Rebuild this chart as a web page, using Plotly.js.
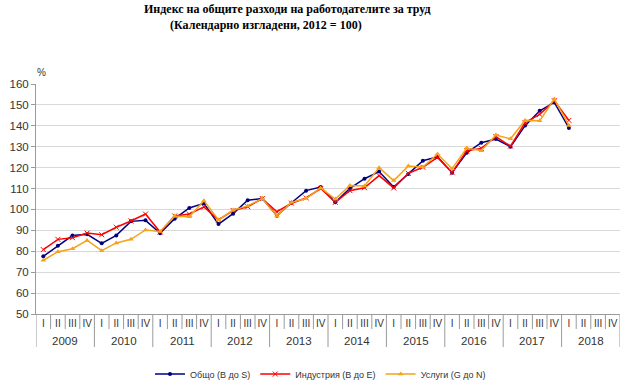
<!DOCTYPE html>
<html>
<head>
<meta charset="utf-8">
<script src="https://cdn.plot.ly/plotly-3.0.1.min.js"></script>
<style>html,body{margin:0;padding:0;background:#fff;}#chart{width:630px;height:381px;}</style>
</head>
<body>
<div id="chart"></div>
<script>
const years = ["2009","2010","2011","2012","2013","2014","2015","2016","2017","2018"];
const quarters = ["I","II","III","IV"];
const total = [77.6, 82.7, 87.5, 88.1, 83.8, 87.6, 94.3, 94.8, 88.6, 95.6, 100.7, 102.9, 93.0, 98.0, 104.4, 105.2, 97.0, 103.2, 109.0, 110.7, 103.4, 110.1, 114.7, 118.1, 110.7, 117.0, 123.3, 125.2, 117.6, 127.1, 131.9, 133.7, 130.0, 140.1, 147.2, 151.2, 139.0];
const industry = [80.8, 85.7, 86.5, 88.7, 87.9, 91.5, 94.5, 97.8, 89.2, 96.9, 97.8, 101.2, 95.0, 99.5, 101.3, 105.2, 98.9, 103.0, 105.5, 110.0, 103.4, 109.0, 110.4, 116.2, 110.3, 117.3, 120.2, 124.9, 117.6, 128.1, 129.2, 134.8, 130.3, 141.5, 145.5, 152.0, 142.6];
const services = [75.7, 79.8, 81.2, 85.2, 80.3, 84.0, 85.7, 90.2, 89.5, 96.7, 96.5, 104.2, 95.0, 99.7, 101.7, 105.2, 96.9, 103.4, 105.2, 110.3, 105.0, 111.5, 111.2, 120.0, 113.8, 120.8, 120.3, 126.5, 119.5, 129.4, 128.1, 135.6, 133.8, 142.6, 142.4, 152.8, 140.2];
const seriesNames = ["Общо (B до S)", "Индустрия (B до E)", "Услуги (G до N)"];

const nQ = years.length * quarters.length;
const tickVals = [], tickText = [];
for (let i = 0; i < nQ; i++) { tickVals.push(i); tickText.push(quarters[i % 4]); }
const xs = total.map((_, i) => i);

const plotH = 230;
const shapes = [];
for (let i = 0; i <= nQ; i++) {
  const isYear = i % 4 === 0;
  shapes.push({type:'line', xref:'x', yref:'paper', x0:i-0.5, x1:i-0.5, y0:0,
    y1: -(isYear ? 33 : 15) / plotH, line:{color:'#9a9a9a', width:1}});
}
const annotations = years.map((y, k) => ({
  x: k*4 + 1.5, xref:'x', y: -27/plotH, yref:'paper', text: y, showarrow:false,
  yanchor:'middle', font:{family:'Liberation Sans, Arial', size:11.5, color:'#333'}
}));
annotations.push({x:(41-36)/584, xref:'paper', y:(314-72)/plotH, yref:'paper', text:'%', showarrow:false,
  xanchor:'center', yanchor:'middle', font:{family:'Liberation Sans, Arial', size:10, color:'#333'}});
annotations.push({x:(287-36)/584, xref:'paper', y:(314-9)/plotH, yref:'paper',
  text:'<b>Индекс на общите разходи на работодателите за труд</b>', showarrow:false,
  xanchor:'center', yanchor:'middle', font:{family:'Liberation Serif, Times New Roman', size:12, color:'#000'}});
annotations.push({x:(266-36)/584, xref:'paper', y:(314-25)/plotH, yref:'paper',
  text:'<b>(Календарно изгладени, 2012 = 100)</b>', showarrow:false,
  xanchor:'center', yanchor:'middle', font:{family:'Liberation Serif, Times New Roman', size:12, color:'#000'}});

const traces = [
  {x: xs, y: total, name: seriesNames[0], mode:'lines+markers', line:{color:'#000080', width:1.5}, marker:{symbol:'circle', size:4, color:'#000080'}},
  {x: xs, y: industry, name: seriesNames[1], mode:'lines+markers', line:{color:'#ff0000', width:1.5}, marker:{symbol:'x-thin', size:5, color:'#ff0000', line:{color:'#ff0000', width:1}}},
  {x: xs, y: services, name: seriesNames[2], mode:'lines+markers', line:{color:'#f5a31a', width:1.5}, marker:{symbol:'triangle-up', size:5, color:'#f5a31a'}}
];

const layout = {
  width:630, height:381,
  margin:{l:36, r:10, t:84, b:67, pad:0, autoexpand:false},
  paper_bgcolor:'#fff', plot_bgcolor:'#fff',
  showlegend:true,
  legend:{orientation:'h', x:(150-36)/584, xanchor:'left', y:(314-374)/plotH, yanchor:'middle',
    font:{family:'Liberation Sans, Arial', size:9, color:'#333'}, itemwidth:30, tracegroupgap:0, bgcolor:'rgba(0,0,0,0)'},
  xaxis:{range:[-0.5, nQ-0.5], tickvals:tickVals, ticktext:tickText, ticks:'', showgrid:false, zeroline:false,
    showline:true, linecolor:'#9a9a9a', linewidth:1, tickangle:0,
    tickfont:{family:'Liberation Sans, Arial', size:10, color:'#333'}, fixedrange:true},
  yaxis:{range:[50,160], dtick:10, tick0:50, ticks:'outside', ticklen:4, tickcolor:'#9a9a9a',
    showline:true, linecolor:'#9a9a9a', linewidth:1, showgrid:true, gridcolor:'#d9d9d9', gridwidth:1, zeroline:false,
    tickfont:{family:'Liberation Sans, Arial', size:11.5, color:'#333'}},
  shapes: shapes,
  annotations: annotations
};
Plotly.newPlot('chart', traces, layout, {displayModeBar:false, staticPlot:true});
</script>
</body>
</html>
